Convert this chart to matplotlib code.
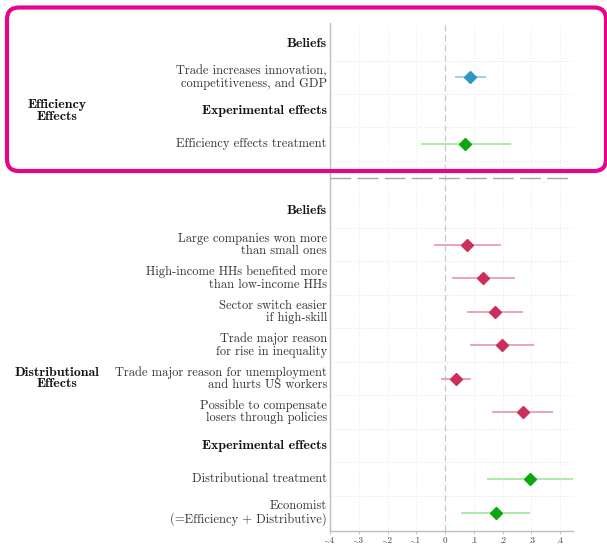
import matplotlib
matplotlib.use("Agg")
import matplotlib.pyplot as plt
from matplotlib.patches import FancyBboxPatch
from matplotlib.transforms import IdentityTransform, blended_transform_factory, offset_copy

# Row labels (top to bottom); None marks the separator row
labels = [
    "Beliefs",
    "Trade increases innovation,\ncompetitiveness, and GDP",
    "Experimental effects",
    "Efficiency effects treatment",
    None,
    "Beliefs",
    "Large companies won more\nthan small ones",
    "High-income HHs benefited more\nthan low-income HHs",
    "Sector switch easier\nif high-skill",
    "Trade major reason\nfor rise in inequality",
    "Trade major reason for unemployment\nand hurts US workers",
    "Possible to compensate\nlosers through policies",
    "Experimental effects",
    "Distributional treatment",
    "Economist\n(=Efficiency + Distributive)",
]
header_rows = [0, 2, 5, 12]

# Coefficient estimates and 95% intervals: (row, estimate, low, high, kind)
coef_rows = [1, 3, 6, 7, 8, 9, 10, 11, 13, 14]
estimates = [0.087, 0.071, 0.077, 0.133, 0.174, 0.197, 0.037, 0.270, 0.296, 0.178]
ci_low = [0.034, -0.085, -0.039, 0.024, 0.075, 0.086, -0.015, 0.165, 0.147, 0.057]
ci_high = [0.141, 0.229, 0.194, 0.243, 0.271, 0.309, 0.092, 0.376, 0.460, 0.296]
kinds = ["eff", "treat", "dist", "dist", "dist", "dist", "dist", "dist", "treat", "treat"]

marker_colors = {"eff": "#2f97c4", "dist": "#cc2f5c", "treat": "#0aa80a"}
ci_colors = {"eff": "#98cbe4", "dist": "#eb9db3", "treat": "#a6e8a0"}

xticks = [-0.4, -0.3, -0.2, -0.1, 0.0, 0.1, 0.2, 0.3, 0.4]
xtick_labels = ["-.4", "-.3", "-.2", "-.1", "0", ".1", ".2", ".3", ".4"]

group_labels = ["Efficiency\nEffects", "Distributional\nEffects"]
group_rows = [2, 10]

W, H = 607, 545
fig = plt.figure(figsize=(W / 100, H / 100), dpi=100)
ax = fig.add_axes([330 / W, 1 - 531 / H, (573 - 330) / W, (531 - 23) / H])

ax.set_xlim(-0.4, 0.445)
ax.set_ylim(14.55, -0.62)

# grid: faint dotted verticals at ticks, dashed zero line, dotted row separators
for xv in xticks:
    if xv == 0:
        ax.axvline(0, color="#c8c8c8", lw=0.9, ls=(0, (5, 3)), zorder=1)
    elif xv > -0.4:
        ax.axvline(xv, color="#e6e6e6", lw=0.7, ls=(0, (1, 2)), zorder=0)
for r in list(range(0, 4)) + list(range(5, 14)):
    ax.axhline(r + 0.5, color="#dedede", lw=0.7, ls=(0, (1, 2)), zorder=0)

# separator between the two panels
ax.axhline(4, color="#a8a8a8", lw=1.0, ls=(0, (15, 4.5)), zorder=1)

for r, est, lo, hi, k in zip(coef_rows, estimates, ci_low, ci_high, kinds):
    ax.plot([lo, hi], [r, r], color=ci_colors[k], lw=1.3, zorder=2, solid_capstyle="butt")
    ax.plot([est], [r], marker="D", ms=6.2, color=marker_colors[k], mec=marker_colors[k],
            zorder=3, ls="none")

for s in ["top", "right"]:
    ax.spines[s].set_visible(False)
for s in ["left", "bottom"]:
    ax.spines[s].set_color("#bdbdbd")
    ax.spines[s].set_linewidth(1.0)

ax.set_yticks([])
ax.set_xticks(xticks)
ax.set_xticklabels(xtick_labels, family="cmr10", fontsize=6.5, color="#444444")
ax.tick_params(axis="x", length=2.5, width=0.6, color="#bdbdbd", pad=1.5)

# row labels to the left of the plotting area
trans = offset_copy(blended_transform_factory(ax.transAxes, ax.transData),
                    fig=fig, x=-3, y=0, units="dots")
for i, lab in enumerate(labels):
    if lab is None:
        continue
    bold = i in header_rows
    ax.text(0, i, lab, transform=trans, ha="right", va="center", multialignment="right",
            family="cmb10" if bold else "cmr10", fontsize=10.0 if bold else 9.0,
            color="#141414" if bold else "#333333", linespacing=1.0)

for lab, r in zip(group_labels, group_rows):
    ytxt = ax.transData.transform((0, r))[1]
    fig.text(57 / W, ytxt / H, lab, ha="center", va="center", multialignment="center",
             family="cmb10", fontsize=10.0, color="#141414", linespacing=0.95)

# highlight box around the efficiency panel
box = FancyBboxPatch((7, H - 171), 599, 171 - 7.5,
                     boxstyle="round,pad=0,rounding_size=12",
                     transform=IdentityTransform(), fill=False,
                     edgecolor="#e8048a", linewidth=3.0)
fig.add_artist(box)

fig.savefig("out.png", dpi=100)
